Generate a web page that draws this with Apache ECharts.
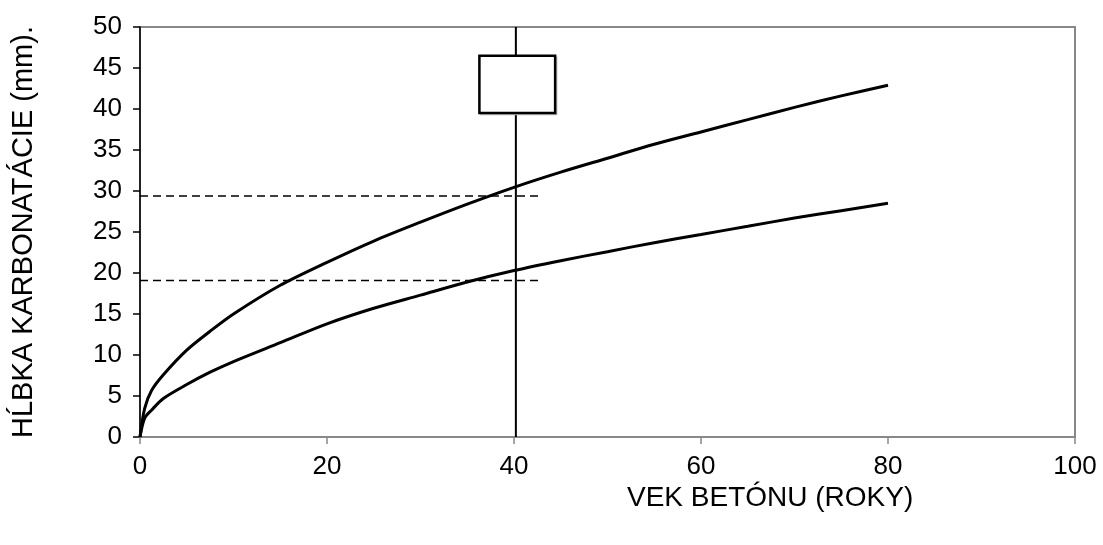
<!DOCTYPE html>
<html>
<head>
<meta charset="utf-8">
<script src="https://cdn.jsdelivr.net/npm/echarts@6/dist/echarts.min.js"></script>
<style>
  html, body { margin: 0; padding: 0; background: #fff; }
  #chart { width: 1103px; height: 545px; }
</style>
</head>
<body>
<div id="chart"></div>
<script>
// Carbonation depth (mm) vs. concrete age (years)
const ageYears   = [0, 0.5, 1.25, 2.5, 5, 7.5, 10, 15, 20, 25, 30, 35, 40, 45, 50, 55, 60, 65, 70, 75, 80];
const depthUpper = [0, 3.5, 5.7, 7.6, 10.6, 12.9, 15.0, 18.5, 21.3, 23.9, 26.2, 28.4, 30.45, 32.3, 34.0, 35.7, 37.2, 38.7, 40.2, 41.6, 42.9];
const depthLower = [0, 2.3, 3.3, 4.7, 6.4, 7.9, 9.2, 11.5, 13.8, 15.7, 17.3, 18.9, 20.3, 21.5, 22.6, 23.7, 24.7, 25.7, 26.7, 27.6, 28.5];

// reference age line and the depth levels read from it
const refAge = 40.2;
const refLevels = [29.4, 19.1];
const refLevelEnd = 42.9;

// box drawn on the reference line: [ageFrom, ageTo], [depthFrom, depthTo]
const boxAge = [36.3, 44.4];
const boxDepth = [39.5, 46.5];

const xTicks = { min: 0, max: 100, step: 20 };
const yTicks = { min: 0, max: 50, step: 5 };

const FONT = '"Liberation Sans", Arial, sans-serif';

const pairs = (xs, ys) => xs.map((x, i) => [x, ys[i]]);

const curve = (xs, ys) => ({
  type: 'line',
  data: pairs(xs, ys),
  smooth: 0.3,
  showSymbol: false,
  lineStyle: { color: '#000', width: 3 },
  z: 5
});

const levelLines = refLevels.map(v => ({
  type: 'line',
  data: [[0, v], [refLevelEnd, v]],
  showSymbol: false,
  lineStyle: { color: '#000', width: 1.5, type: [8, 5] },
  z: 3
}));

const chart = echarts.init(document.getElementById('chart'), null, { renderer: 'canvas' });

chart.setOption({
  animation: false,
  backgroundColor: '#fff',
  grid: {
    left: 140, right: 28, top: 27, bottom: 108,
    show: true, borderColor: '#888', borderWidth: 2, backgroundColor: 'transparent'
  },
  xAxis: {
    type: 'value',
    min: xTicks.min, max: xTicks.max, interval: xTicks.step,
    axisLine: { show: true, lineStyle: { color: '#888', width: 2 } },
    axisTick: { show: true, length: 7, lineStyle: { color: '#888', width: 1.5 } },
    axisLabel: { fontFamily: FONT, fontSize: 26, color: '#000', margin: 17 },
    splitLine: { show: false }
  },
  yAxis: {
    type: 'value',
    min: yTicks.min, max: yTicks.max, interval: yTicks.step,
    name: 'HĹBKA KARBONATÁCIE (mm).',
    nameLocation: 'middle',
    nameGap: 102,
    nameRotate: 90,
    nameTextStyle: { fontFamily: FONT, fontSize: 29, color: '#000' },
    axisLine: { show: true, lineStyle: { color: '#000', width: 1.5 } },
    axisTick: { show: true, length: 7, lineStyle: { color: '#000', width: 1.5 } },
    axisLabel: { fontFamily: FONT, fontSize: 26, color: '#000', margin: 18 },
    splitLine: { show: false }
  },
  graphic: [{
    type: 'text',
    left: 627, top: 484,
    style: { text: 'VEK BETÓNU (ROKY)', font: '28px ' + FONT, fill: '#000' }
  }],
  series: [
    curve(ageYears, depthUpper),
    curve(ageYears, depthLower),
    ...levelLines,
    {
      type: 'line',
      data: [[refAge, yTicks.min], [refAge, yTicks.max]],
      showSymbol: false,
      lineStyle: { color: '#000', width: 2 },
      z: 4
    },
    {
      type: 'custom',
      data: [[boxAge[0], boxDepth[1], boxAge[1], boxDepth[0]]],
      renderItem: (params, api) => {
        const p1 = api.coord([api.value(0), api.value(1)]);
        const p2 = api.coord([api.value(2), api.value(3)]);
        return {
          type: 'group',
          children: [
            { type: 'rect', shape: { x: p1[0] + 1.5, y: p1[1] + 1.5, width: p2[0] - p1[0], height: p2[1] - p1[1] },
              style: { fill: 'none', stroke: '#bbb', lineWidth: 1.5 } },
            { type: 'rect', shape: { x: p1[0], y: p1[1], width: p2[0] - p1[0], height: p2[1] - p1[1] },
              style: { fill: '#fff', stroke: '#000', lineWidth: 2.5 } }
          ]
        };
      },
      z: 10
    }
  ]
});
</script>
</body>
</html>
